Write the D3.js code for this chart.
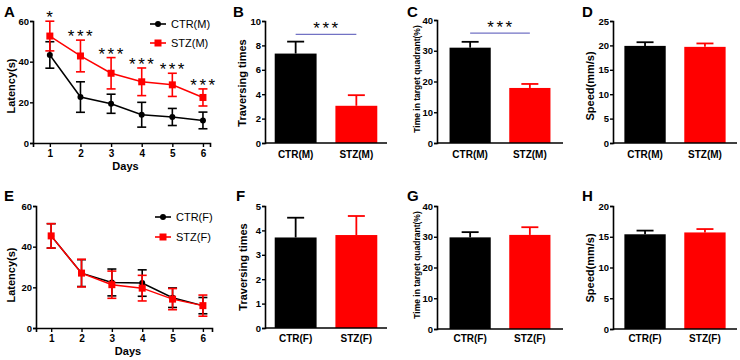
<!DOCTYPE html>
<html><head><meta charset="utf-8">
<script src="https://cdn.jsdelivr.net/npm/d3@7"></script>
<style>body{margin:0;background:#fff}svg{display:block;font-family:"Liberation Sans",Arial,sans-serif}</style>
</head><body><svg id="c" width="740" height="360"></svg>
<script>
// ---- data ----
const days = [1, 2, 3, 4, 5, 6];
const dayTicks = ["1", "2", "3", "4", "5", "6"];
const ctrM = [43.3, 22.6, 19.3, 13.9, 12.8, 11.1];
const ctrMErr = [6.5, 7.5, 4.7, 6.1, 4.2, 4.1];
const stzM = [52.6, 42.8, 34.3, 30.1, 28.6, 22.4];
const stzMErr = [7.3, 7.8, 7.7, 6.8, 5.7, 4.2];
const starsM = ["*", "***", "***", "***", "***", "***"];
const ctrF = [45.3, 27.0, 22.4, 22.1, 14.9, 11.0];
const ctrFErr = [6.0, 6.6, 6.6, 6.5, 4.8, 4.0];
const stzF = [45.3, 27.0, 21.3, 19.6, 14.2, 11.0];
const stzFErr = [6.0, 6.8, 6.7, 6.3, 5.2, 5.2];

const groupsM = ["CTR(M)", "STZ(M)"];
const groupsF = ["CTR(F)", "STZ(F)"];
const traversingM = [7.33, 3.05], traversingMErr = [0.98, 0.87];
const quadrantM = [31.0, 17.9], quadrantMErr = [1.9, 1.3];
const speedM = [19.9, 19.7], speedMErr = [0.75, 0.7];
const traversingF = [3.71, 3.81], traversingFErr = [0.81, 0.78];
const quadrantF = [29.8, 30.6], quadrantFErr = [1.7, 2.5];
const speedF = [15.4, 15.7], speedFErr = [0.6, 0.55];
const sigB = 8.9, sigC = 35.7;

const svg = d3.select("#c");
const RED = "#ff0000", BLACK = "#000000", SIG = "#7272c4";

function yAxis(g, y, ticks, x0) {
  const a = g.append("g").attr("transform", `translate(${x0},0)`)
    .call(d3.axisLeft(y).tickValues(ticks).tickSize(3).tickPadding(1).tickFormat(d3.format("d")));
  a.select(".domain").attr("stroke-width", 1.6);
  a.selectAll(".tick line").attr("stroke-width", 1.4);
  a.selectAll("text").attr("font-size", 9.5).attr("font-weight", "bold").attr("fill", "#000");
}

function letter(t, x, y) {
  svg.append("text").attr("x", x).attr("y", y).text(t)
    .attr("font-size", 15).attr("font-weight", "bold");
}
function ylabel(t, x, y, fs) {
  svg.append("text").attr("transform", `translate(${x},${y}) rotate(-90)`)
    .attr("text-anchor", "middle").attr("font-size", fs).attr("font-weight", "bold").text(t);
}
function stars(g, x, y, t) {
  g.append("text").attr("x", x).attr("y", y).attr("text-anchor", "middle")
    .attr("font-size", 17).attr("letter-spacing", 2.5).text(t);
}

function linePanel(o) {
  const g = svg.append("g");
  const x = d3.scaleLinear().domain(o.xd).range([o.x0, o.x1]);
  const y = d3.scaleLinear().domain([0, 60]).range([o.y0, o.yT]);
  const xa = g.append("g").attr("transform", `translate(0,${o.y0})`)
    .call(d3.axisBottom(x).tickValues(days).tickSize(4).tickPadding(3).tickFormat((d, i) => dayTicks[i]));
  xa.select(".domain").attr("stroke-width", 1.6);
  xa.selectAll(".tick line").attr("stroke-width", 1.4);
  xa.selectAll("text").attr("font-size", 10).attr("font-weight", "bold");
  yAxis(g, y, [0, 20, 40, 60], o.x0);
  g.append("text").attr("x", (o.x0 + o.x1) / 2 + 4).attr("y", o.daysY).attr("text-anchor", "middle")
    .attr("font-size", 11).attr("font-weight", "bold").text("Days");
  const series = [
    {v: o.ctr, e: o.ctrE, c: BLACK, sq: false},
    {v: o.stz, e: o.stzE, c: RED, sq: true}
  ];
  const line = d3.line().x((d, i) => x(days[i])).y(d => y(d));
  series.forEach(s => {
    g.append("path").datum(s.v).attr("d", line).attr("fill", "none").attr("stroke", s.c).attr("stroke-width", 1.5);
    s.v.forEach((v, i) => {
      const cx = x(days[i]);
      g.append("line").attr("x1", cx).attr("x2", cx).attr("y1", y(v - s.e[i])).attr("y2", y(v + s.e[i]))
        .attr("stroke", s.c).attr("stroke-width", 1.6);
      [v - s.e[i], v + s.e[i]].forEach(ev => {
        g.append("line").attr("x1", cx - 4.5).attr("x2", cx + 4.5).attr("y1", y(ev)).attr("y2", y(ev))
          .attr("stroke", s.c).attr("stroke-width", 1.6);
      });
      if (s.sq) g.append("rect").attr("x", cx - 3.5).attr("y", y(v) - 3.5).attr("width", 7).attr("height", 7).attr("fill", s.c);
      else g.append("circle").attr("cx", cx).attr("cy", y(v)).attr("r", 3).attr("fill", s.c);
    });
  });
  if (o.stars) {
    o.stars.forEach((t, i) => stars(g, x(days[i]) + 1, y(o.stz[i] + o.stzE[i]) + 2, t));
  }
  o.legend.forEach((t, i) => {
    const ly = o.legY[i], c = i ? RED : BLACK;
    g.append("line").attr("x1", o.legX).attr("x2", o.legX + 16).attr("y1", ly).attr("y2", ly).attr("stroke", c).attr("stroke-width", 1.6);
    if (i) g.append("rect").attr("x", o.legX + 4.5).attr("y", ly - 3.5).attr("width", 7).attr("height", 7).attr("fill", c);
    else g.append("circle").attr("cx", o.legX + 8).attr("cy", ly).attr("r", 3).attr("fill", c);
    g.append("text").attr("x", o.legX + 21).attr("y", ly + 4).attr("font-size", 11).text(t);
  });
}

function barPanel(o) {
  const g = svg.append("g");
  const x = d3.scaleBand().domain(o.groups).range([o.x0, o.x1]).paddingInner(0.31).paddingOuter(o.po);
  const y = d3.scaleLinear().domain([0, o.max]).range([o.y0, o.yT]);
  const cols = [BLACK, RED];
  o.vals.forEach((v, i) => {
    const gx = x(o.groups[i]), cx = gx + x.bandwidth() / 2;
    g.append("line").attr("x1", cx).attr("x2", cx).attr("y1", y(v)).attr("y2", y(v + o.errs[i]))
      .attr("stroke", cols[i]).attr("stroke-width", 1.8);
    g.append("line").attr("x1", cx - 8.5).attr("x2", cx + 8.5).attr("y1", y(v + o.errs[i])).attr("y2", y(v + o.errs[i]))
      .attr("stroke", cols[i]).attr("stroke-width", 1.8);
    g.append("rect").attr("x", gx).attr("y", y(v)).attr("width", x.bandwidth()).attr("height", y(0) - y(v)).attr("fill", cols[i]);
    g.append("text").attr("x", cx).attr("y", o.catY).attr("text-anchor", "middle")
      .attr("font-size", 10).attr("font-weight", "bold").text(o.groups[i]);
  });
  g.append("line").attr("x1", o.x0).attr("x2", o.x1).attr("y1", o.y0).attr("y2", o.y0).attr("stroke", "#000").attr("stroke-width", 1.6);
  yAxis(g, y, d3.range(0, o.max + 0.001, o.step), o.x0);
  if (o.sig !== undefined) {
    const c0 = x(o.groups[0]) + x.bandwidth() / 2, c1 = x(o.groups[1]) + x.bandwidth() / 2;
    g.append("line").attr("x1", c0).attr("x2", c1).attr("y1", y(o.sig)).attr("y2", y(o.sig)).attr("stroke", SIG).attr("stroke-width", 1.3);
    stars(g, (c0 + c1) / 2 + 1, y(o.sig), "***");
  }
}

// Row 1
linePanel({x0: 33, x1: 210, xd: [0.45, 6.23], y0: 143, yT: 21, ctr: ctrM, ctrE: ctrMErr, stz: stzM, stzE: stzMErr,
  stars: starsM, daysY: 170, legend: ["CTR(M)", "STZ(M)"], legX: 150, legY: [24, 43]});
barPanel({groups: groupsM, vals: traversingM, errs: traversingMErr, max: 10, step: 2, x0: 265, x1: 387, po: 0.16, y0: 143, yT: 21, catY: 158, sig: sigB});
barPanel({groups: groupsM, vals: quadrantM, errs: quadrantMErr, max: 40, step: 10, x0: 437, x1: 563, po: 0.21, y0: 143, yT: 20, catY: 158, sig: sigC});
barPanel({groups: groupsM, vals: speedM, errs: speedMErr, max: 25, step: 5, x0: 613, x1: 737, po: 0.19, y0: 143, yT: 21, catY: 158});
// Row 2
linePanel({x0: 36, x1: 212, xd: [0.5, 6.3], y0: 328, yT: 206, ctr: ctrF, ctrE: ctrFErr, stz: stzF, stzE: stzFErr,
  daysY: 355, legend: ["CTR(F)", "STZ(F)"], legX: 155, legY: [217, 237]});
barPanel({groups: groupsF, vals: traversingF, errs: traversingFErr, max: 5, step: 1, x0: 265, x1: 387, po: 0.16, y0: 328, yT: 206, catY: 342});
barPanel({groups: groupsF, vals: quadrantF, errs: quadrantFErr, max: 40, step: 10, x0: 437, x1: 563, po: 0.21, y0: 329, yT: 206, catY: 342});
barPanel({groups: groupsF, vals: speedF, errs: speedFErr, max: 20, step: 5, x0: 613, x1: 737, po: 0.19, y0: 329, yT: 206, catY: 342});

// labels
letter("A", 4, 17); letter("B", 233, 17); letter("C", 407, 17); letter("D", 582, 17);
letter("E", 4, 201); letter("F", 236, 201); letter("G", 407, 201); letter("H", 582, 201);
ylabel("Latency(s)", 15, 86, 11);
ylabel("Traversing times", 246, 83, 11);
ylabel("Time in target quadrant(%)", 420, 79, 8.5);
ylabel("Speed(mm/s)", 594, 86, 11);
ylabel("Latency(s)", 15, 275, 11);
ylabel("Traversing times", 247, 267, 11);
ylabel("Time in target quadrant(%)", 420, 265, 8.5);
ylabel("Speed(mm/s)", 594, 268, 11);
</script></body></html>
